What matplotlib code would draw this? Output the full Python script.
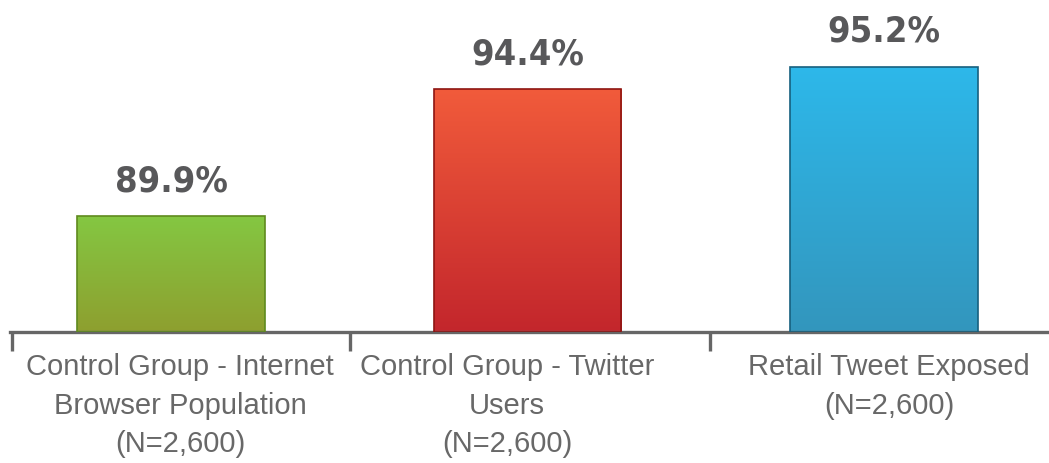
import numpy as np
import matplotlib.pyplot as plt
import matplotlib.colors as mcolors
from matplotlib import font_manager

# data
categories = ['Control Group - Internet\nBrowser Population\n(N=2,600)',
              'Control Group - Twitter\nUsers\n(N=2,600)',
              'Retail Tweet Exposed\n(N=2,600)']
values = [89.9, 94.4, 95.2]
value_labels = ['89.9%', '94.4%', '95.2%']
label_x = [0.025, 0.943, 2.014]
boundary_ticks = [-0.446, 0.502, 1.512]

top_colors = ['#84c742', '#f15b3b', '#2db8ea']
bottom_colors = ['#8e9f2f', '#c3262c', '#3396bd']
edge_colors = ['#5f8a1e', '#8e1512', '#17607f']

# pick a narrow bold font for the value labels if there is one
installed = {f.name for f in font_manager.fontManager.ttflist}
if 'Liberation Sans Narrow' in installed:
    num_font = dict(fontfamily='Liberation Sans Narrow', fontsize=27)
else:
    num_font = dict(fontfamily='DejaVu Sans', fontstretch='condensed', fontsize=26)

fig = plt.figure(figsize=(10.49, 4.63), dpi=100)
ax = fig.add_axes([10/1049, 131/463, 1039/1049, 332/463])

x = np.arange(len(values))
ppu = 28.2  # pixels per percent
ymin = 85.8
ax.set_ylim(ymin, ymin + 332/ppu)
ax.set_xlim(-0.4516, 2.463)

bars = ax.bar(x, np.array(values) - ymin, bottom=ymin, width=0.525,
              edgecolor=edge_colors, linewidth=1.2, color='none', zorder=3)

for b, c0, c1 in zip(bars, top_colors, bottom_colors):
    cmap = mcolors.LinearSegmentedColormap.from_list('g', [c1, c0])
    grad = np.linspace(0, 1, 256).reshape(-1, 1)
    x0, y0 = b.get_x(), b.get_y()
    im = ax.imshow(grad, cmap=cmap, origin='lower', aspect='auto',
                   extent=[x0, x0 + b.get_width(), y0, y0 + b.get_height()], zorder=2)
    im.set_clip_path(b)

for xi, v, lab in zip(x, values, value_labels):
    ax.annotate(lab, (xi, v), xytext=(0, 18), textcoords='offset points',
                ha='center', va='baseline', fontweight='bold',
                color='#58585a', **num_font)

for lx, cat in zip(label_x, categories):
    ax.text(lx, ymin - 21/ppu, cat, ha='center', va='top',
            fontsize=21, color='#686868', linespacing=1.48,
            fontfamily='Liberation Sans', clip_on=False)

for s in ['top', 'right', 'left']:
    ax.spines[s].set_visible(False)
ax.spines['bottom'].set_color('#666666')
ax.spines['bottom'].set_linewidth(2.4)
ax.set_yticks([])
ax.set_xticks(boundary_ticks)
ax.set_xticklabels([])
ax.tick_params(axis='x', length=14, width=2.4, color='#666666', direction='out')

fig.savefig('out.png', dpi=100)
